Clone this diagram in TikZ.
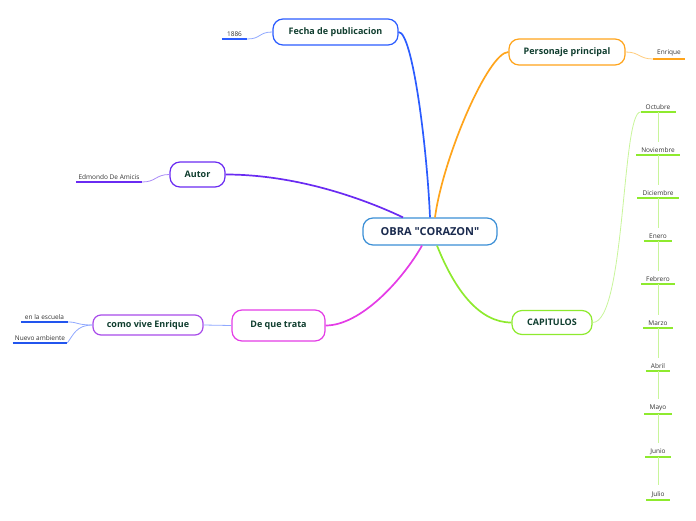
\documentclass[tikz,border=0pt]{standalone}
\usepackage{fontspec}
\setmainfont{Open Sans}
\newfontfamily\qfont{Open Sans}
\definecolor{cblue}{HTML}{2B5CFF}
\definecolor{cblueL}{HTML}{8FA8FF}
\definecolor{corange}{HTML}{FFA41B}
\definecolor{corangeL}{HTML}{FFCB7A}
\definecolor{cpurple}{HTML}{6A2BF2}
\definecolor{cpurpleL}{HTML}{A98AF7}
\definecolor{cmagenta}{HTML}{E43CE6}
\definecolor{cviolet}{HTML}{A84BEA}
\definecolor{cgreen}{HTML}{8EEA2E}
\definecolor{cgreenL}{HTML}{C8F59A}
\definecolor{ccenter}{HTML}{3B8FD6}
\definecolor{ctext}{HTML}{0F3D2E}
\definecolor{cnavy}{HTML}{1A2A4E}
\definecolor{leaftext}{HTML}{333333}
\definecolor{ublue}{HTML}{2255EE}
\begin{document}
\begin{tikzpicture}[x=1pt,y=-1pt,
  box/.style={draw, line width=1.2pt, rounded corners=10pt, fill=white,
    font=\bfseries\fontsize{9}{10}\selectfont, text=ctext, inner sep=0pt},
  leaf/.style={font=\fontsize{6.5}{8}\selectfont, text=leaftext,
    inner xsep=4pt, inner ysep=2.5pt, anchor=south},
  branch/.style={line width=1.7pt},
  twig/.style={line width=0.8pt},
  uline/.style={line width=2pt}]
\useasboundingbox (0,0) rectangle (696,520);

% main boxes
\node[box, draw=ccenter, text=cnavy, font=\qfont\bfseries\fontsize{11}{12}\selectfont,
  minimum width=134pt, minimum height=27pt] (obra) at (430,231.5) {OBRA "CORAZON"};
\node[box, draw=cblue, minimum width=125pt, minimum height=26pt] (fecha) at (335.5,32) {Fecha de publicacion};
\node[box, draw=corange, minimum width=116pt, minimum height=26pt] (perso) at (567,52) {Personaje principal};
\node[box, draw=cpurple, minimum width=55pt, minimum height=25pt] (autor) at (197.5,174.5) {Autor};
\node[box, draw=cmagenta, minimum width=93pt, minimum height=31pt] (trata) at (278.5,325.5) {De que trata};
\node[box, draw=cviolet, rounded corners=8pt, minimum width=110pt, minimum height=20pt] (vive) at (148,325) {como vive Enrique};
\node[box, draw=cgreen, minimum width=80pt, minimum height=24pt] (capit) at (552,322.5) {CAPITULOS};

% main branches
\draw[branch, cblue] (fecha.east) .. controls +(14,0) and +(-3,-70) .. (obra.north);
\draw[branch, corange] (perso.west) .. controls +(-20,0) and +(8,-60) .. ([xshift=5pt]obra.north);
\draw[branch, cpurple] (autor.east) .. controls +(80,0) and +(-25,-12) .. ([xshift=-27pt]obra.north);
\draw[branch, cmagenta] (trata.east) .. controls +(35,0) and +(-20,35) .. ([xshift=-8pt]obra.south);
\draw[branch, cgreen] ([xshift=7pt]obra.south) .. controls +(18,45) and +(-32,0) .. (capit.west);

% leaves
\node[leaf, inner xsep=5pt] (y1886) at (234.5,39) {1886};
\draw[uline, cblue] (y1886.south west) -- (y1886.south east);
\draw[twig, cblueL] (fecha.west) .. controls +(-14,0) and +(14,0) .. (y1886.south east);

\node[leaf] (enrique) at (669,59) {Enrique};
\draw[uline, corange] (enrique.south west) -- (enrique.south east);
\draw[twig, corangeL] (perso.east) .. controls +(14,0) and +(-14,0) .. (enrique.south west);

\node[leaf, inner xsep=2.5pt] (edmondo) at (109,182) {Edmondo De Amicis};
\draw[uline, cpurple] (edmondo.south west) -- (edmondo.south east);
\draw[twig, cpurpleL] (autor.west) .. controls +(-14,0) and +(14,0) .. (edmondo.south east);

\node[leaf] (escuela) at (44.5,322) {en la escuela};
\draw[uline, ublue] (escuela.south west) -- (escuela.south east);
\node[leaf, inner xsep=2pt] (nuevo) at (40,343) {Nuevo ambiente};
\draw[uline, ublue] (nuevo.south west) -- (nuevo.south east);
\draw[twig, cblueL] (vive.west) .. controls +(-16,0) and +(10,0) .. (escuela.south east);
\draw[twig, cblueL] (vive.west) .. controls +(-16,0) and +(6,-8) .. (nuevo.south east);
\draw[twig, cblueL] (vive.east) -- (trata.west);

% capitulos
\foreach \t [count=\i] in {Octubre,Noviembre,Diciembre,Enero,Febrero,Marzo,Abril,Mayo,Junio,Julio}
  \node[leaf, inner xsep=5pt] (m\i) at (658,{round(112+43.1*(\i-1))}) {\t};
\foreach \i in {1,...,10}
  \draw[uline, cgreen] (m\i.south west) -- (m\i.south east);
\foreach \i [evaluate=\i as \j using int(\i+1)] in {1,...,9}
  \draw[twig, cgreenL] (m\i.south) -- ([yshift=3pt]m\j.north);
\draw[twig, cgreenL] (capit.east) .. controls +(33,0) and +(-19,0) .. (m1.south west);
\end{tikzpicture}
\end{document}
